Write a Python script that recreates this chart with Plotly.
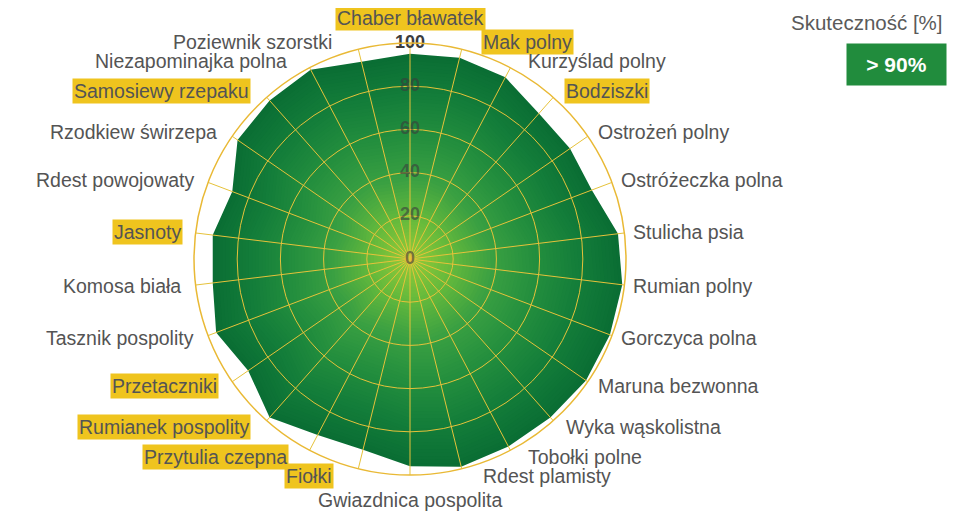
import math
import plotly.graph_objects as go

# ---------------- data ----------------
categories = [
    "Chaber bławatek", "Mak polny", "Kurzyślad polny", "Bodziszki",
    "Ostrożeń polny", "Ostróżeczka polna", "Stulicha psia", "Rumian polny",
    "Gorczyca polna", "Maruna bezwonna", "Wyka wąskolistna", "Tobołki polne",
    "Rdest plamisty", "Gwiazdnica pospolita", "Fiołki", "Przytulia czepna",
    "Rumianek pospolity", "Przetaczniki", "Tasznik pospolity", "Komosa biała",
    "Jasnoty", "Rdest powojowaty", "Rzodkiew świrzepa", "Samosiewy rzepaku",
    "Niezapominajka polna", "Poziewnik szorstki",
]
values = [95, 96, 95, 90, 90, 90, 97, 99, 99, 99, 98, 98, 99, 96,
          91, 92, 98, 91, 96, 92, 92, 88, 97, 98, 99, 94]
highlighted = ["Chaber bławatek", "Mak polny", "Bodziszki", "Jasnoty",
               "Samosiewy rzepaku", "Przetaczniki", "Rumianek pospolity",
               "Przytulia czepna", "Fiołki"]
radial_ticks = [0, 20, 40, 60, 80, 100]
radial_tick_labels = ["0", "20", "40", "60", "80", "100"]
legend_title = "Skuteczność [%]"
legend_badge = "> 90%"

# ---------------- style ----------------
PAGE_OFF = 8                      # default body margin of the html page
W, H = 960 - PAGE_OFF, 519 - PAGE_OFF
FONT = "Liberation Sans, Arial, sans-serif"
TEXT_COLOR = "#545454"
YELLOW = "#EFC41E"
GRID = "#E6C23A"
OUTER = "#E9B935"


def fx(px):  # window pixel -> paper x
    return (px - PAGE_OFF) / W


def fy(py):  # window pixel -> paper y
    return 1 - (py - PAGE_OFF) / H


DOM_X = [fx(194), fx(626)]
DOM_Y = [fy(475), fy(43)]

grad_stops = [
    (0.0, (152, 204, 56)),
    (0.2, (102, 186, 60)),
    (0.4, (58, 160, 66)),
    (0.6, (36, 143, 62)),
    (0.8, (20, 126, 58)),
    (1.0, (10, 110, 52)),
]


def grad_color(f):
    for (f0, c0), (f1, c1) in zip(grad_stops[:-1], grad_stops[1:]):
        if f <= f1:
            t = (f - f0) / (f1 - f0)
            return "rgb(%d,%d,%d)" % tuple(round(a + (b - a) * t) for a, b in zip(c0, c1))
    return "rgb(%d,%d,%d)" % grad_stops[-1][1]


fig = go.Figure()

theta_closed = categories + [categories[0]]
N_LAYERS = 60
for k in range(N_LAYERS, 0, -1):
    f = k / N_LAYERS
    r = [v * f for v in values]
    fig.add_trace(go.Scatterpolar(
        r=r + [r[0]], theta=theta_closed, mode="lines", fill="toself",
        fillcolor=grad_color(f), line=dict(width=0, color=grad_color(f)),
        hoverinfo="skip", showlegend=False, subplot="polar",
    ))

# radial tick labels drawn on the top (grid) subplot
fig.add_trace(go.Scatterpolar(
    r=radial_ticks, theta=[categories[0]] * len(radial_ticks),
    mode="text", text=radial_tick_labels, textposition="middle center",
    textfont=dict(family=FONT, size=18, weight="bold",
                  color=["rgba(60,60,60,0.62)"] * (len(radial_ticks) - 1) + ["#3c3c3c"]),
    cliponaxis=False, hoverinfo="skip", showlegend=False, subplot="polar2",
))

common_ang = dict(type="category", categoryarray=categories, direction="clockwise",
                  rotation=90)

fig.update_layout(
    width=W, height=H, margin=dict(l=0, r=0, t=0, b=0),
    paper_bgcolor="white", plot_bgcolor="white", showlegend=False,
    polar=dict(
        domain=dict(x=DOM_X, y=DOM_Y), bgcolor="white",
        angularaxis=dict(**common_ang, showgrid=False, showline=False,
                         showticklabels=False, ticks=""),
        radialaxis=dict(range=[0, 100], showgrid=False, showline=False,
                        showticklabels=False, ticks=""),
    ),
    polar2=dict(
        domain=dict(x=DOM_X, y=DOM_Y), bgcolor="rgba(0,0,0,0)",
        angularaxis=dict(**common_ang, showgrid=True, gridcolor=GRID, gridwidth=1,
                         showline=True, linecolor=OUTER, linewidth=1.5,
                         showticklabels=False, ticks=""),
        radialaxis=dict(range=[0, 100], tickvals=radial_ticks[1:-1], showgrid=True,
                        gridcolor=GRID, gridwidth=1, showline=False,
                        showticklabels=False, ticks=""),
    ),
)

# ---------------- category labels (annotations around the circle) ----------------
cx = 410.0
cy = 259.0
R = 216.0
n = len(categories)
annotations = []
for i, name in enumerate(categories):
    a = math.radians(i * 360 / n)
    s, c = math.sin(a), math.cos(a)
    if abs(s) < 0.1:
        rho = R + 12
        px, py = cx + rho * s, cy - rho * c
        xa, ya = "center", ("bottom" if c > 0 else "top")
    else:
        ry = R + 8
        if s > 0:
            px = cx + (R + 7) * s + 20 * c ** 4
            xa = "left"
        else:
            px = cx + (R + 13) * s - 24 * c ** 4
            xa = "right"
        py = cy - ry * c
        ya = "middle"
    hl = name in highlighted
    annotations.append(dict(
        x=fx(px), y=fy(py), xref="paper", yref="paper",
        text=name, showarrow=False, xanchor=xa, yanchor=ya,
        font=dict(family=FONT, size=19.5, color=TEXT_COLOR),
        bgcolor=YELLOW if hl else "rgba(0,0,0,0)", borderpad=1,
    ))

# legend title and badge
annotations.append(dict(
    x=fx(945), y=fy(22), xref="paper", yref="paper", text=legend_title,
    showarrow=False, xanchor="right", yanchor="middle",
    font=dict(family=FONT, size=20.5, color="#5a5a5a"),
))
annotations.append(dict(
    x=fx(896.5), y=fy(64.5), xref="paper", yref="paper",
    text="<b>%s</b>" % legend_badge, showarrow=False,
    xanchor="center", yanchor="middle", width=97, height=39,
    bgcolor="#218c3d", font=dict(family=FONT, size=21, color="white"),
))
fig.update_layout(annotations=annotations)

fig.write_html("out.html")
